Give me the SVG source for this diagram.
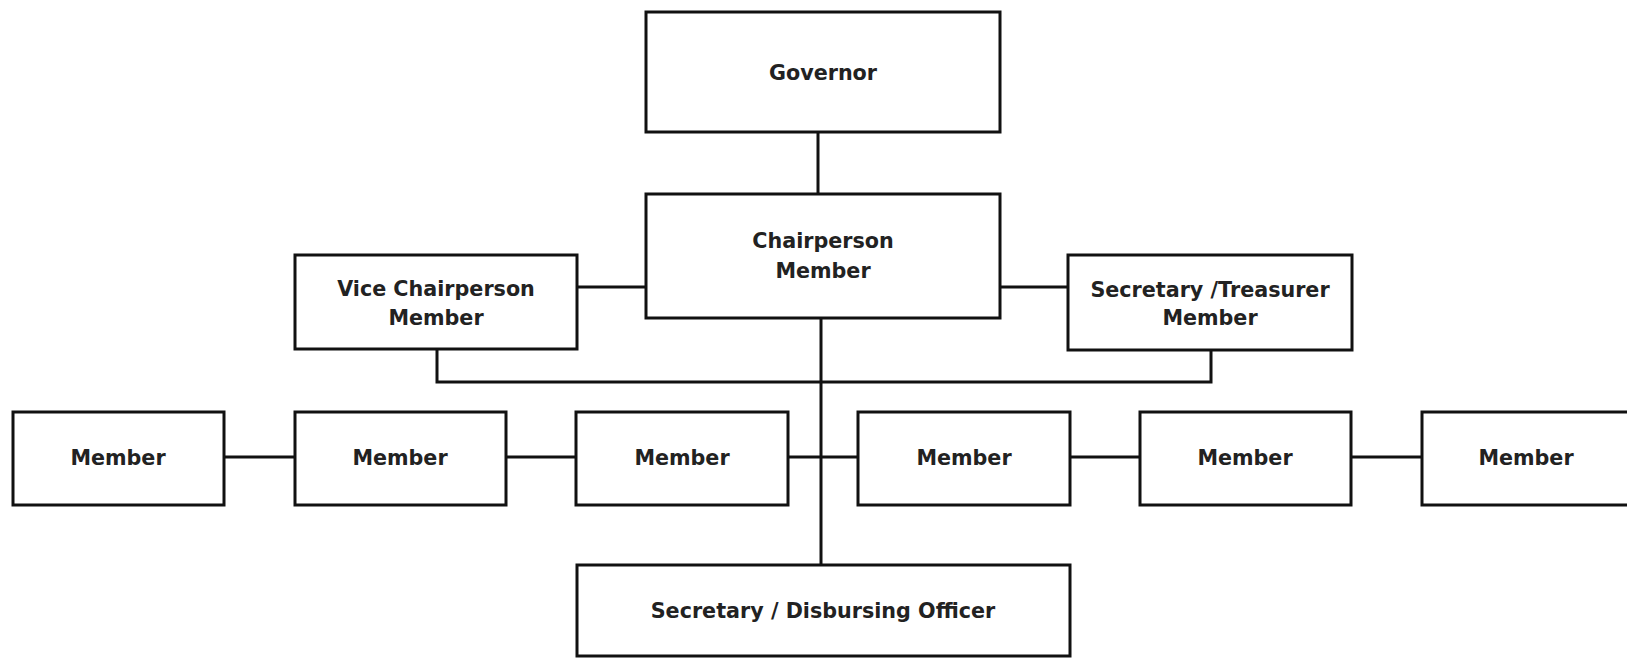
<svg xmlns="http://www.w3.org/2000/svg" width="1627" height="660" viewBox="0 0 1627 660">
<style>
.box{fill:#fff;stroke:#111;stroke-width:3}
.ln{fill:none;stroke:#111;stroke-width:3}
text{font-family:"DejaVu Sans",Verdana,sans-serif;font-weight:bold;font-size:20.7px;fill:#222;text-anchor:middle}
</style>
<rect width="1627" height="660" fill="#fff"/>
<g id="connectors">
<line class="ln" x1="818" y1="132" x2="818" y2="194"/>
<line class="ln" x1="821" y1="318" x2="821" y2="565"/>
<line class="ln" x1="577" y1="287" x2="646" y2="287"/>
<line class="ln" x1="1000" y1="287" x2="1068" y2="287"/>
<polyline class="ln" points="437,349 437,382 1211,382 1211,350"/>
<line class="ln" x1="224" y1="457" x2="295" y2="457"/>
<line class="ln" x1="506" y1="457" x2="576" y2="457"/>
<line class="ln" x1="788" y1="457" x2="858" y2="457"/>
<line class="ln" x1="1070" y1="457" x2="1140" y2="457"/>
<line class="ln" x1="1351" y1="457" x2="1422" y2="457"/>
</g>
<g id="governor"><rect class="box" x="646" y="12" width="354" height="120"/><text x="823" y="80">Governor</text></g>
<g id="chairperson"><rect class="box" x="646" y="194" width="354" height="124"/><text x="823" y="248">Chairperson</text><text x="823" y="278">Member</text></g>
<g id="vice-chairperson"><rect class="box" x="295" y="255" width="282" height="94"/><text x="436" y="296">Vice Chairperson</text><text x="436" y="325">Member</text></g>
<g id="secretary-treasurer"><rect class="box" x="1068" y="255" width="284" height="95"/><text x="1210" y="297">Secretary /Treasurer</text><text x="1210" y="325">Member</text></g>
<g id="member1"><rect class="box" x="13" y="412" width="211" height="93"/><text x="118" y="465">Member</text></g>
<g id="member2"><rect class="box" x="295" y="412" width="211" height="93"/><text x="400" y="465">Member</text></g>
<g id="member3"><rect class="box" x="576" y="412" width="212" height="93"/><text x="682" y="465">Member</text></g>
<g id="member4"><rect class="box" x="858" y="412" width="212" height="93"/><text x="964" y="465">Member</text></g>
<g id="member5"><rect class="box" x="1140" y="412" width="211" height="93"/><text x="1245" y="465">Member</text></g>
<g id="member6"><rect class="box" x="1422" y="412" width="211" height="93"/><text x="1526" y="465">Member</text></g>
<g id="secretary-disbursing"><rect class="box" x="577" y="565" width="493" height="91"/><text x="823" y="618">Secretary / Disbursing Officer</text></g>
</svg>
